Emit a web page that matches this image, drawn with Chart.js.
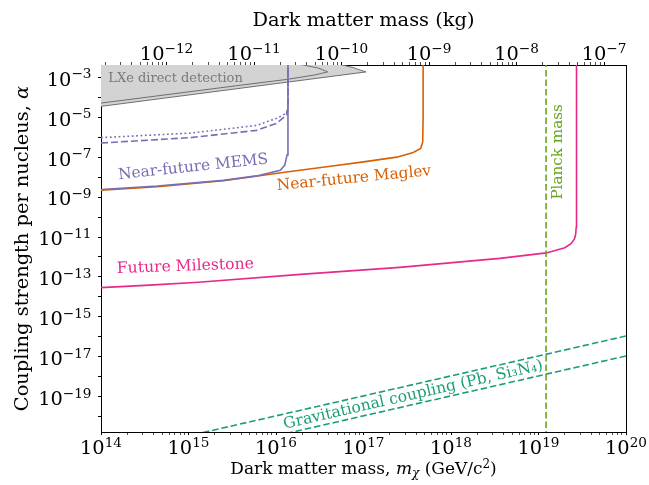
<!DOCTYPE html>
<html>
<head>
<meta charset="utf-8">
<script src="https://cdn.jsdelivr.net/npm/chart.js@4/dist/chart.umd.min.js"></script>
<style>
  html, body { margin: 0; padding: 0; background: #fff; }
  #chart { display: block; }
</style>
</head>
<body>
<canvas id="chart" width="649" height="485"></canvas>
<script>
const GEV_IN_KG = 1.78266e-27;

const MASS_MIN = 1e14;
const MASS_MAX = 1e20;
const ALPHA_MIN = 1.71e-21;
const ALPHA_MAX = 4.13e-3;

// tick decades
const massDecades = [1e14, 1e15, 1e16, 1e17, 1e18, 1e19, 1e20];
const kgDecades = [1e-13, 1e-12, 1e-11, 1e-10, 1e-9, 1e-8, 1e-7];
const alphaDecades = [1e-20, 1e-19, 1e-18, 1e-17, 1e-16, 1e-15, 1e-14, 1e-13, 1e-12,
  1e-11, 1e-10, 1e-9, 1e-8, 1e-7, 1e-6, 1e-5, 1e-4, 1e-3];
const alphaLabelled = [1e-19, 1e-17, 1e-15, 1e-13, 1e-11, 1e-9, 1e-7, 1e-5, 1e-3];
const minorSteps = [2, 3, 4, 5, 6, 7, 8, 9];

// LXe direct detection region
const lxeOuterMass = [1e14, 1.07e17, 8.9e16, 7.8e16, 5.4e16, 3.2e16];
const lxeOuterAlpha = [3.5e-5, 1.86e-3, 2.4e-3, 3.0e-3, 4.4e-3, 6.3e-3];
const lxeInnerMass = [1e14, 3.9e15, 1.35e16, 2.8e16, 3.9e16, 3.4e16, 2.95e16, 2.0e16, 1.26e16];
const lxeInnerAlpha = [5.1e-5, 4.0e-4, 7.9e-4, 1.32e-3, 1.86e-3, 2.4e-3, 3.0e-3, 4.2e-3, 6.3e-3];

// Near-future MEMS
const memsSolidMass = [1e14, 4.4e14, 2.5e15, 6.0e15, 1.12e16, 1.26e16, 1.34e16, 1.37e16, 1.37e16];
const memsSolidAlpha = [2.4e-9, 3.6e-9, 6.9e-9, 1.15e-8, 2.2e-8, 4.0e-8, 1.3e-7, 1e-6, 1e-2];
const memsDashedMass = [1e14, 1.05e15, 6.0e15, 1.02e16, 1.32e16, 1.37e16, 1.37e16];
const memsDashedAlpha = [5.1e-7, 9.5e-7, 2.2e-6, 5.0e-6, 1.3e-5, 3e-5, 1e-2];
const memsDottedMass = [1e14, 1.05e15, 6.0e15, 1.02e16, 1.32e16, 1.37e16, 1.37e16];
const memsDottedAlpha = [9.5e-7, 1.6e-6, 3.9e-6, 8.9e-6, 1.6e-5, 3.2e-5, 1e-2];

// Near-future Maglev
const maglevMass = [1e14, 4.4e14, 2.5e15, 1.32e16, 4.2e16, 1e17, 2.4e17, 3.7e17, 4.5e17, 4.75e17, 4.8e17, 4.8e17];
const maglevAlpha = [2.2e-9, 3.3e-9, 6.6e-9, 1.8e-8, 3.5e-8, 5.8e-8, 1.0e-7, 1.7e-7, 2.7e-7, 5.8e-7, 1e-5, 1e-2];

// Future Milestone
const milestoneMass = [1e14, 3.6e14, 1.3e15, 1.9e16, 2.6e17, 3.6e18, 1.23e19, 2.0e19, 2.35e19, 2.58e19, 2.66e19, 2.7e19, 2.72e19, 2.72e19];
const milestoneAlpha = [2.9e-14, 3.9e-14, 5.4e-14, 1.35e-13, 3.0e-13, 8.5e-13, 1.6e-12, 2.9e-12, 4.6e-12, 8.0e-12, 1.4e-11, 3.2e-11, 1e-9, 1e-2];

// Gravitational coupling
const gravMass = [1e14, 1e20];
const gravPbAlpha = [1.1e-22, 1.1e-16];
const gravSiNAlpha = [1.1e-23, 1.1e-17];

// Planck mass
const planckMass = [1.22e19, 1.22e19];
const planckAlpha = [1e-22, 1e-1];

const PURPLE = '#7570b3';
const ORANGE = '#d95f02';
const PINK = '#e7298a';
const TEAL = '#1b9e77';
const GREEN = '#66a61e';
const SERIF = '"DejaVu Serif"';

const curveLabels = [
  {text: 'LXe direct detection', x: 1.21e14, y: 8.2e-4, angle: 0, color: '#7a7a7a', size: 13, align: 'left'},
  {text: 'Near-future MEMS', x: 1.13e15, y: 3.1e-8, angle: -6, color: PURPLE, size: 15.4},
  {text: 'Near-future Maglev', x: 7.8e16, y: 8.5e-9, angle: -5.5, color: ORANGE, size: 15.4},
  {text: 'Future Milestone', x: 9.2e14, y: 3.3e-13, angle: -2, color: PINK, size: 15.6},
  {text: 'Planck mass', x: 1.69e19, y: 1.84e-7, angle: -90, color: GREEN, size: 15.2},
  {text: 'Gravitational coupling (Pb, Si\u2083N\u2084)', x: 3.7e17, y: 1.2e-19, angle: -12.9, color: TEAL, size: 15.6},
];

const toPoints = (xs, ys) => xs.map((v, i) => ({x: v, y: ys[i]}));

const lineSet = (data, color, width, dash) => ({
  data: data,
  borderColor: color,
  borderWidth: width,
  borderDash: dash || [],
  pointRadius: 0,
  fill: false,
  tension: 0,
  clip: 0,
});

const withMinors = (decades, lo, hi) => decades
  .flatMap((d) => [d, ...minorSteps.map((s) => s * d)])
  .filter((v) => v >= lo * 0.999 && v <= hi * 1.001);

const isDecade = (v) => Math.abs(Math.log10(v) - Math.round(Math.log10(v))) < 1e-6;

const lxeOutline = toPoints(lxeOuterMass, lxeOuterAlpha);
const lxeShape = [
  ...lxeOutline,
  {x: MASS_MIN, y: lxeOuterAlpha[lxeOuterAlpha.length - 1]},
  lxeOutline[0],
];

const tickGrid = {
  drawOnChartArea: false,
  drawTicks: true,
  tickLength: 3,
  tickColor: '#000',
  tickWidth: (c) => (c.tick && isDecade(c.tick.value) ? 1 : 0.7),
};

const font = (size, italic) => `${italic ? 'italic ' : ''}${size}px ${SERIF}`;

const drawRuns = (ctx, runs, x, y, align) => {
  const widths = runs.map((r) => {
    ctx.font = font(r.size, r.italic);
    return ctx.measureText(r.text).width;
  });
  const total = widths.reduce((a, b) => a + b, 0);
  let cx = align === 'center' ? x - total / 2 : (align === 'right' ? x - total : x);
  runs.forEach((r, i) => {
    ctx.font = font(r.size, r.italic);
    ctx.fillText(r.text, cx, y + (r.dy || 0));
    cx += widths[i];
  });
};

const powRuns = (v) => {
  const e = Math.round(Math.log10(v));
  const exp = (e < 0 ? '\u2212' : '') + Math.abs(e);
  return [{text: '10', size: 19.4}, {text: exp, size: 13.6, dy: -7.4}];
};

const textPlugin = {
  id: 'textPlugin',
  afterDatasetsDraw(chart) {
    const {ctx, scales: {x, y}} = chart;
    ctx.save();
    ctx.textBaseline = 'middle';
    curveLabels.forEach((l) => {
      ctx.save();
      ctx.translate(x.getPixelForValue(l.x), y.getPixelForValue(l.y));
      ctx.rotate(l.angle * Math.PI / 180);
      ctx.fillStyle = l.color;
      ctx.font = font(l.size);
      ctx.textAlign = l.align || 'center';
      ctx.fillText(l.text, 0, 0);
      ctx.restore();
    });
    ctx.restore();
  },
  afterDraw(chart) {
    const {ctx, chartArea, scales: {x, x2, y}} = chart;
    ctx.save();
    ctx.fillStyle = '#000';
    ctx.textAlign = 'left';
    ctx.textBaseline = 'alphabetic';

    massDecades.forEach((v) => {
      drawRuns(ctx, powRuns(v), x.getPixelForValue(v), chartArea.bottom + 22, 'center');
    });
    kgDecades.filter((v) => v >= x2.min).forEach((v) => {
      drawRuns(ctx, powRuns(v), x2.getPixelForValue(v), chartArea.top - 4.6, 'center');
    });
    alphaLabelled.forEach((v) => {
      drawRuns(ctx, powRuns(v), chartArea.left - 9.5, y.getPixelForValue(v) + 8.4, 'right');
    });

    const midX = (chartArea.left + chartArea.right) / 2;
    const midY = (chartArea.top + chartArea.bottom) / 2;

    drawRuns(ctx, [
      {text: 'Dark matter mass, ', size: 17},
      {text: 'm', size: 17, italic: true},
      {text: '\u03c7', size: 12, italic: true, dy: 3},
      {text: ' (GeV/c', size: 17},
      {text: '2', size: 12, dy: -6.5},
      {text: ')', size: 17},
    ], midX, 474, 'center');

    drawRuns(ctx, [{text: 'Dark matter mass (kg)', size: 19.4}], midX, 26, 'center');

    ctx.translate(28, midY);
    ctx.rotate(-Math.PI / 2);
    drawRuns(ctx, [
      {text: 'Coupling strength per nucleus, ', size: 19.4},
      {text: '\u03b1', size: 19.4, italic: true},
    ], 0, 0, 'center');
    ctx.restore();
  },
};

// Chart.js paints the first dataset on top, so the list runs from top to bottom
new Chart(document.getElementById('chart'), {
  type: 'line',
  data: {
    datasets: [
      lineSet(toPoints(planckMass, planckAlpha), GREEN, 1.6, [6.5, 3]),
      lineSet(toPoints(gravMass, gravPbAlpha), TEAL, 1.6, [6.5, 3]),
      lineSet(toPoints(gravMass, gravSiNAlpha), TEAL, 1.6, [6.5, 3]),
      lineSet(toPoints(milestoneMass, milestoneAlpha), PINK, 1.6),
      lineSet(toPoints(memsSolidMass, memsSolidAlpha), PURPLE, 1.6),
      lineSet(toPoints(maglevMass, maglevAlpha), ORANGE, 1.6),
      lineSet(toPoints(memsDashedMass, memsDashedAlpha), PURPLE, 1.6, [7, 3]),
      lineSet(toPoints(memsDottedMass, memsDottedAlpha), PURPLE, 1.6, [1.8, 2.6]),
      lineSet(toPoints(lxeInnerMass, lxeInnerAlpha), '#6e6e6e', 1),
      lineSet(lxeOutline, '#6e6e6e', 1),
      {
        data: lxeShape,
        borderColor: 'rgba(0,0,0,0)',
        backgroundColor: '#d3d3d3',
        borderWidth: 1,
        pointRadius: 0,
        fill: 'shape',
        tension: 0,
        clip: 0,
      },
    ],
  },
  options: {
    responsive: false,
    animation: false,
    devicePixelRatio: 1,
    events: [],
    layout: {padding: {left: 0, right: 23, top: 0, bottom: 0}},
    plugins: {legend: {display: false}, tooltip: {enabled: false}},
    scales: {
      x: {
        type: 'logarithmic',
        position: 'bottom',
        min: MASS_MIN,
        max: MASS_MAX,
        afterBuildTicks: (s) => { s.ticks = withMinors(massDecades, MASS_MIN, MASS_MAX).map((v) => ({value: v})); },
        afterFit: (s) => { s.height = 53; },
        ticks: {display: false},
        grid: tickGrid,
        border: {display: true, color: '#000', width: 1},
      },
      x2: {
        type: 'logarithmic',
        position: 'top',
        min: MASS_MIN * GEV_IN_KG,
        max: MASS_MAX * GEV_IN_KG,
        afterBuildTicks: (s) => { s.ticks = withMinors(kgDecades, MASS_MIN * GEV_IN_KG, MASS_MAX * GEV_IN_KG).map((v) => ({value: v})); },
        afterFit: (s) => { s.height = 65; },
        ticks: {display: false},
        grid: tickGrid,
        border: {display: true, color: '#000', width: 1},
      },
      y: {
        type: 'logarithmic',
        position: 'left',
        min: ALPHA_MIN,
        max: ALPHA_MAX,
        afterBuildTicks: (s) => { s.ticks = alphaDecades.map((v) => ({value: v})); },
        afterFit: (s) => { s.width = 101; },
        ticks: {display: false},
        grid: tickGrid,
        border: {display: true, color: '#000', width: 1},
      },
      y2: {
        type: 'logarithmic',
        position: 'right',
        min: ALPHA_MIN,
        max: ALPHA_MAX,
        afterFit: (s) => { s.width = 0; },
        ticks: {display: false},
        grid: {drawOnChartArea: false, drawTicks: false},
        border: {display: true, color: '#000', width: 1},
      },
    },
  },
  plugins: [textPlugin],
});
</script>
</body>
</html>
